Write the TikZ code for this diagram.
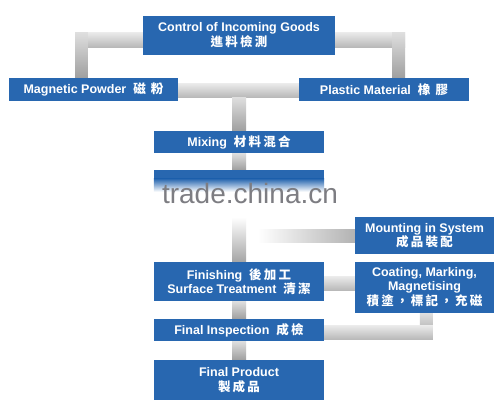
\documentclass[tikz,border=0pt]{standalone}
\usepackage{fontspec}
\setmainfont{Liberation Sans}
\newfontfamily\cjk{Noto Sans CJK TC}[LetterSpace=18]
\usetikzlibrary{calc}
\pgfdeclarelayer{bg}
\pgfsetlayers{bg,main}
\definecolor{boxblue}{RGB}{40,103,176}
\definecolor{wm}{RGB}{125,125,130}
\tikzset{
  box/.style={fill=boxblue, draw=none, text=white, font=\bfseries\fontsize{12.5}{15}\selectfont, align=center, inner sep=0pt},
  hbar/.style={top color=gray!15, bottom color=gray!55, draw=none},
  vbar/.style={top color=gray!25, bottom color=gray!75, draw=none},
}
\begin{document}
\begin{tikzpicture}[x=1pt,y=-1pt]
\useasboundingbox (0,0) rectangle (501,407);
\coordinate (lc) at (75,32);
\coordinate (rc) at (405,32);
\coordinate (cc) at (239,83);
\path
 node[box, minimum width=192, minimum height=39] (top) at (239,35.5) {Control of Incoming Goods\\[0pt]{\cjk 進料檢測}}
 node[box, minimum width=169, minimum height=23] (mp) at (93.5,89.5) {Magnetic Powder \ {\cjk 磁 粉}}
 node[box, minimum width=170, minimum height=23] (pm) at (384,89.5) {Plastic Material \ {\cjk 橡 膠}}
 node[box, minimum width=170, minimum height=22] (mix) at (239,142) {Mixing \ {\cjk 材料混合}}
 node[minimum width=170, minimum height=20, inner sep=0pt] (hid) at (239,180) {}
 node[box, minimum width=139, minimum height=37] (mount) at (424.5,235.5) {Mounting in System\\[-1pt]{\cjk 成品裝配}}
 node[box, minimum width=170, minimum height=39] (fin) at (239,281.5) {Finishing \ {\cjk 後加工}\\[-1pt]Surface Treatment \ {\cjk 清潔}}
 node[box, minimum width=139, minimum height=51] (coat) at (424.5,287.5) {Coating, Marking,\\[-1pt]Magnetising\\[0pt]{\cjk 積塗，標記，充磁}}
 node[box, minimum width=170, minimum height=22] (insp) at (239,330) {Final Inspection \ {\cjk 成檢}}
 node[box, minimum width=170, minimum height=40] (prod) at (239,380) {Final Product\\[0pt]{\cjk 製成品}};
\begin{pgfonlayer}{bg}
\fill[white] (0,0) rectangle (501,407);
\shade[hbar] (lc) rectangle ($(top.west)+(0,11.5)$);
\shade[vbar] (lc) rectangle ($(mp.north west)+(79,0)$);
\shade[hbar] ($(top.east)+(0,-3.5)$) rectangle ($(rc)+(0,15)$);
\shade[vbar] ($(rc)+(-13,0)$) rectangle ($(pm.north east)+(-64,0)$);
\shade[hbar] ($(mp.east)+(0,-6.5)$) rectangle ($(pm.west)+(0,7.5)$);
\shade[vbar] ($(cc)+(-7,14)$) rectangle ($(mix.north)+(7,0)$);
\shade[vbar] ($(mix.south)+(-7,0)$) rectangle ($(hid.north)+(7,0)$);
\shade[top color=white, bottom color=gray!70, draw=none] ($(fin.north)+(-7,-45)$) rectangle ($(fin.north)+(7,0)$);
\shade[left color=white, right color=gray!60, draw=none] ($(mount.west)+(-97,-6.5)$) rectangle ($(mount.west)+(0,6.5)$);
\shade[hbar] ($(fin.east)+(0,-5.5)$) rectangle ($(coat.west)+(0,2.5)$);
\shade[vbar] ($(fin.south)+(-7,0)$) rectangle ($(insp.north)+(7,0)$);
\shade[vbar] ($(coat.south west)+(65,0)$) rectangle ($(coat.south west)+(78,26)$);
\shade[hbar] ($(insp.east)+(0,-5)$) rectangle ($(coat.south west)+(78,26)$);
\shade[vbar] ($(insp.south)+(-7,0)$) rectangle ($(prod.north)+(7,0)$);
\end{pgfonlayer}
% hidden box with fade
\fill[boxblue] (hid.north west) rectangle ($(hid.north east)+(0,9)$);
\shade[top color=boxblue, bottom color=white, draw=none] ($(hid.north west)+(0,9)$) rectangle ($(hid.north east)+(0,22)$);
\node[text=wm, font=\fontsize{28}{28}\selectfont, inner sep=0pt] (wmk) at (250,193) {trade.china.cn};
\end{tikzpicture}
\end{document}
